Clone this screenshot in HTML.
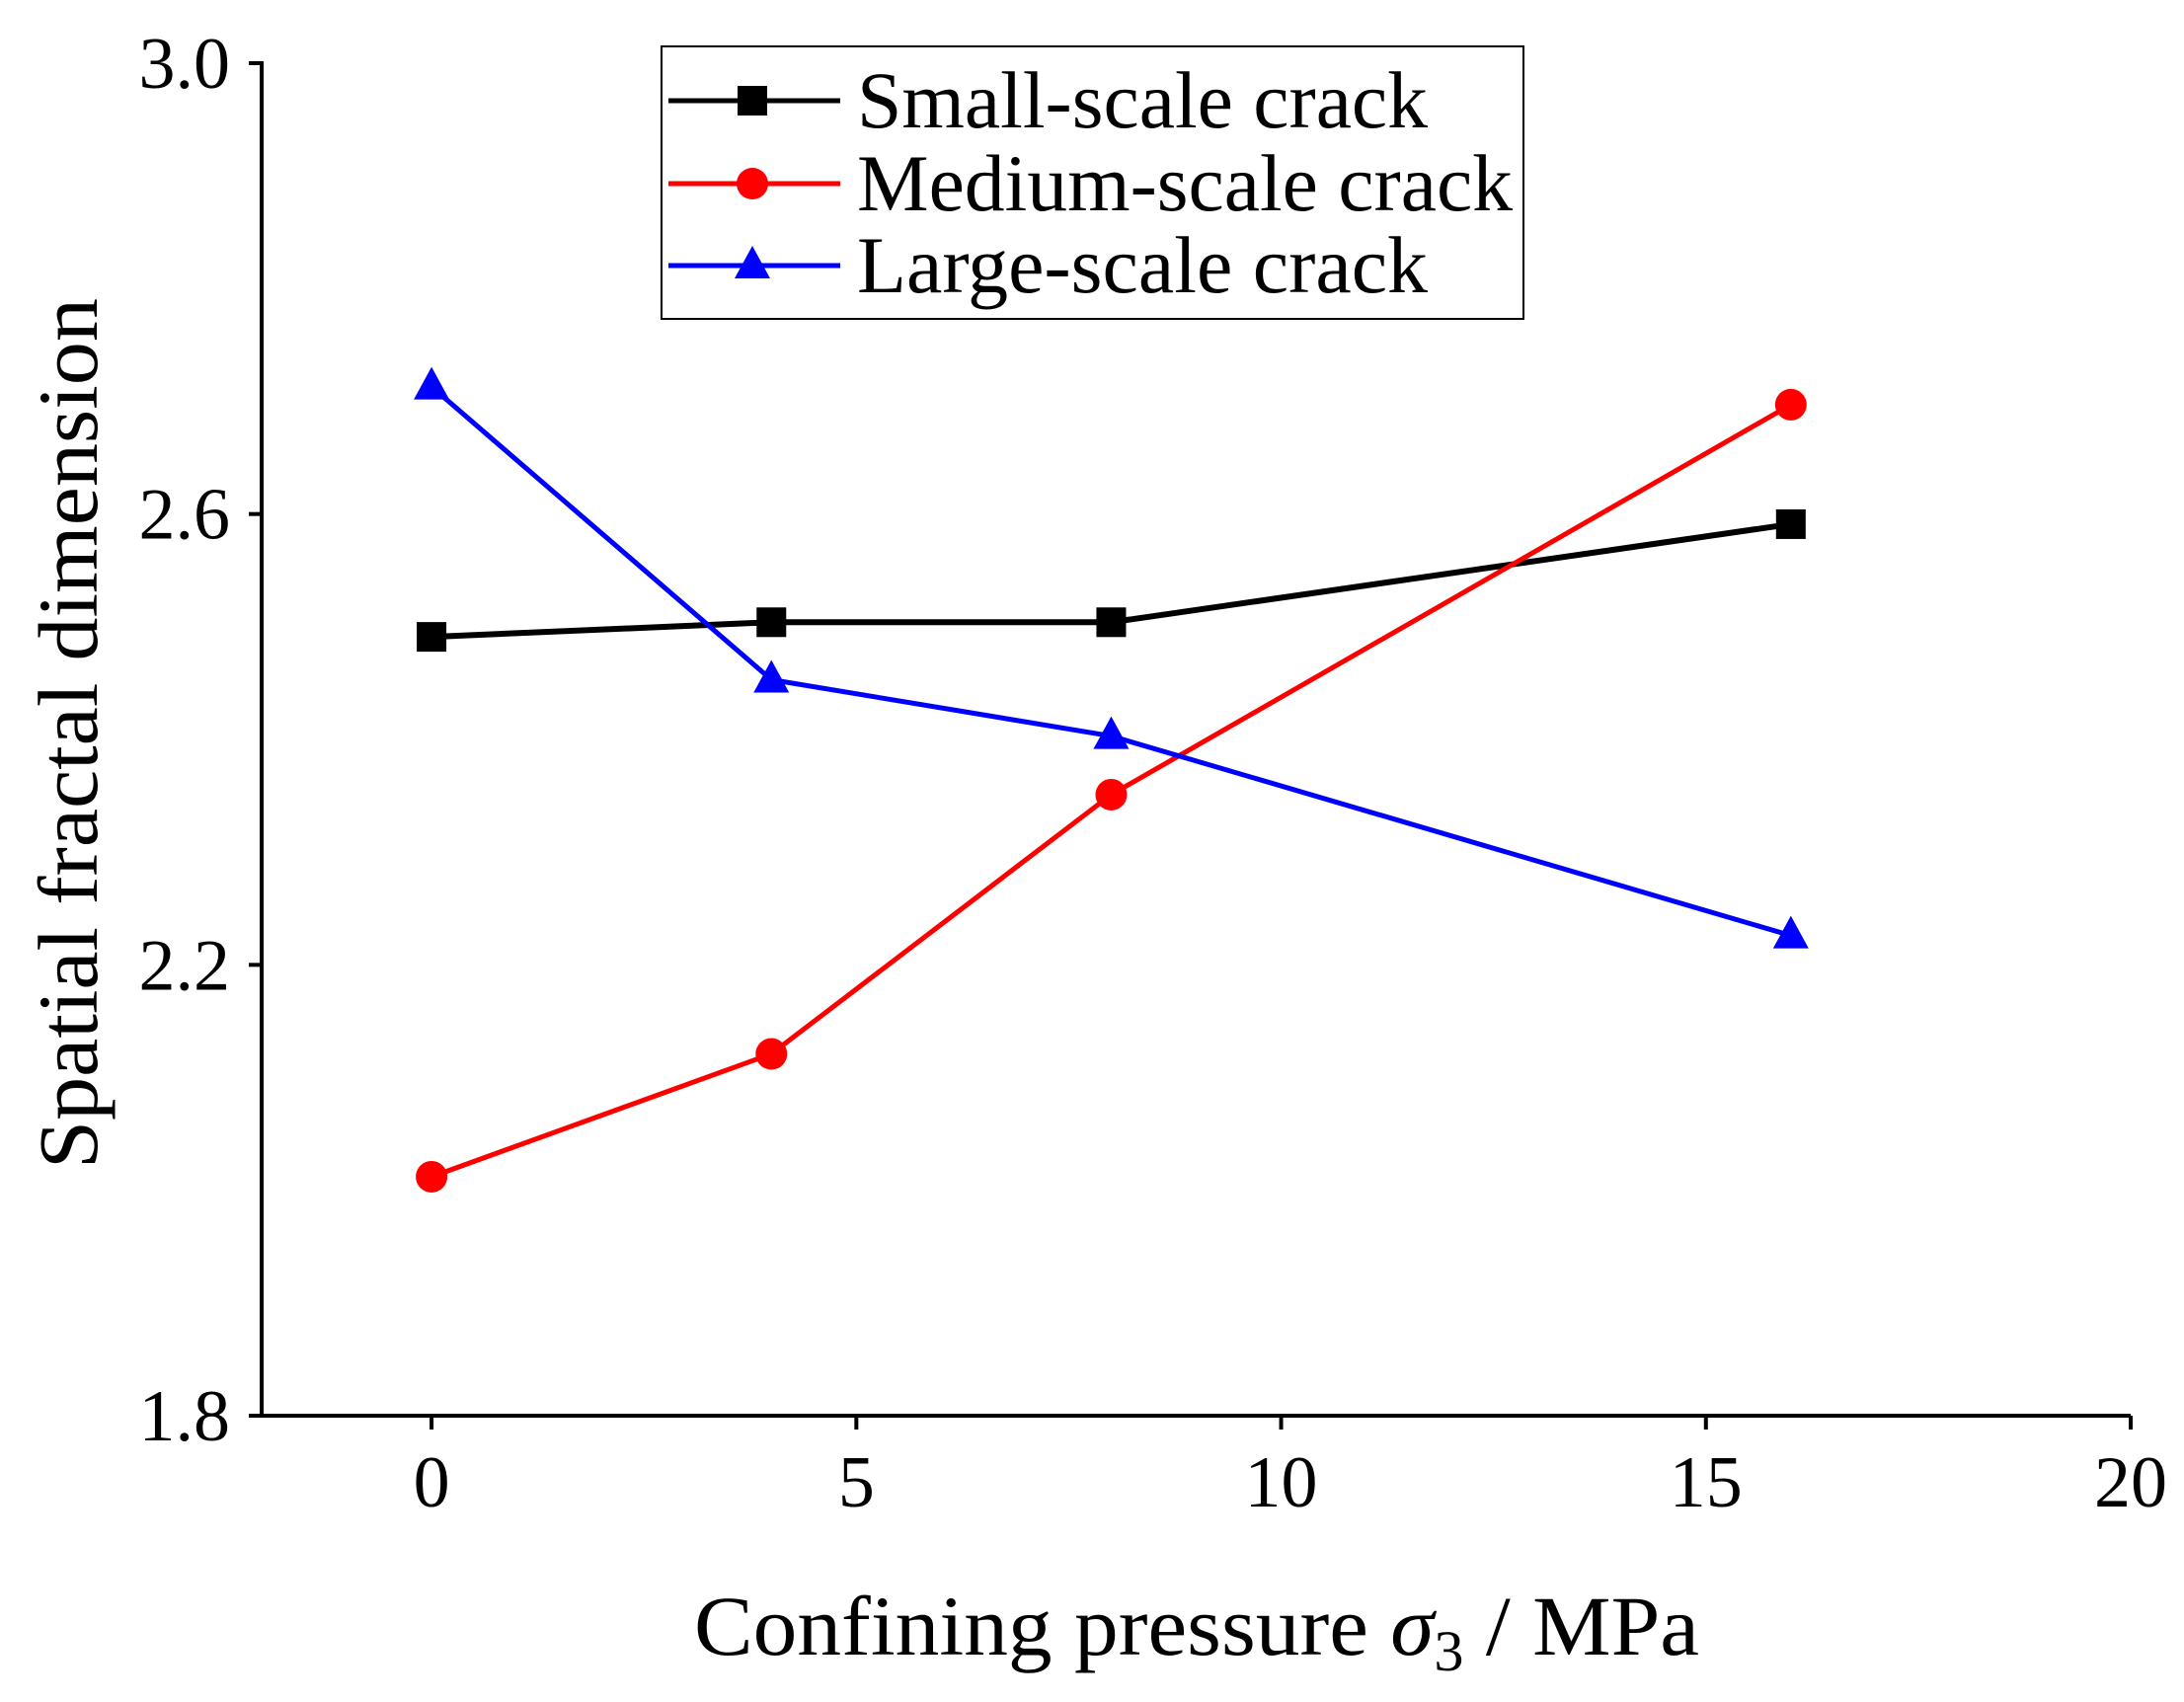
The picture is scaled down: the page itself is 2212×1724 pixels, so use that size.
<!DOCTYPE html>
<html><head><meta charset="utf-8"><style>body{margin:0;background:#fff}svg{display:block}</style></head>
<body>
<svg id="chart" width="2212" height="1724" xmlns="http://www.w3.org/2000/svg" font-family="'Liberation Serif', serif"></svg>
<script>
const xValues=[0,4,8,16];
const smallScale=[2.491,2.504,2.504,2.591];
const mediumScale=[2.012,2.121,2.351,2.697];
const largeScale=[2.713,2.453,2.403,2.226];
const xTicks=[0,5,10,15,20];
const yTicks=[1.8,2.2,2.6,3.0];
const yTickLabels=["1.8","2.2","2.6","3.0"];
const seriesNames=["Small-scale crack","Medium-scale crack","Large-scale crack"];

const L=265,R=2158,T=64,B=1434,XMIN=-2,XMAX=20,YMIN=1.8,YMAX=3.0;
const sx=v=>L+(v-XMIN)/(XMAX-XMIN)*(R-L);
const sy=v=>B-(v-YMIN)/(YMAX-YMIN)*(B-T);
const svg=document.getElementById('chart');
const NS='http://www.w3.org/2000/svg';
function mk(tag,attrs,parent){const e=document.createElementNS(NS,tag);for(const k in attrs)e.setAttribute(k,attrs[k]);(parent||svg).appendChild(e);return e;}

let e;
e=mk('line',{x1:L,y1:T-2,x2:L,y2:B+2,stroke:'#000','stroke-width':4});


e=mk('line',{x1:L-2,y1:B,x2:R,y2:B,stroke:'#000','stroke-width':4});



yTicks.forEach((v,i)=>{
  const t=mk('line',{x1:L-13,y1:sy(v),x2:L,y2:sy(v),stroke:'#000','stroke-width':4});
  
  
  const lb=mk('text',{x:233,y:sy(v)+25,'font-size':74,'text-anchor':'end'});
  lb.textContent=yTickLabels[i];
  
  
});
xTicks.forEach(v=>{
  const t=mk('line',{x1:sx(v),y1:B,x2:sx(v),y2:B+14,stroke:'#000','stroke-width':4});
  
  
  const lb=mk('text',{x:sx(v),y:1526,'font-size':74,'text-anchor':'middle'});
  lb.textContent=String(v);
  
  
});

e=mk('text',{x:0,y:0,'font-size':86,'text-anchor':'middle',transform:'translate(98,743) rotate(-90)',textLength:882,lengthAdjust:'spacingAndGlyphs'});
e.textContent='Spatial fractal dimension';



e=mk('text',{x:703,y:1676,'font-size':86,textLength:1018,lengthAdjust:'spacingAndGlyphs'});
e.innerHTML='Confining pressure <tspan font-style="italic">σ</tspan><tspan font-size="58" dy="16">3</tspan><tspan dy="-16"> / MPa</tspan>';



const colors=['#000','#f00','#00f'];
const shapes=['square','circle','triangle'];
function marker(shape,x,y,c,g){
  let m;
  if(shape==='square')m=mk('rect',{x:x-15,y:y-15,width:30,height:30,fill:c},g);
  else if(shape==='circle')m=mk('circle',{cx:x,cy:y,r:16,fill:c},g);
  else m=mk('polygon',{points:`${x},${y-20} ${x+18},${y+13} ${x-18},${y+13}`,fill:c},g);
  return m;
}
[smallScale,mediumScale,largeScale].forEach((data,si)=>{
  const g=mk('g',{});
  
  
  const pts=data.map((v,i)=>sx(xValues[i])+','+sy(v)).join(' ');
  const pl=mk('polyline',{points:pts,fill:'none',stroke:colors[si],'stroke-width':si===0?6:5},g);
  
  
  data.forEach((v,i)=>{
    const m=marker(shapes[si],sx(xValues[i]),sy(v),colors[si],g);
    
    
  });
});

const lg=mk('g',{});


e=mk('rect',{x:670,y:47,width:873,height:276,fill:'#fff',stroke:'#000','stroke-width':2},lg);


const ly=[102,186,269];
const lw=[578,664,578];
seriesNames.forEach((n,i)=>{
  const eg=mk('g',{},lg);
  
  
  mk('line',{x1:677,y1:ly[i],x2:851,y2:ly[i],stroke:colors[i],'stroke-width':5},eg);
  marker(shapes[i],762,ly[i],colors[i],eg);
  const t=mk('text',{x:868,y:ly[i]+27,'font-size':82,textLength:lw[i],lengthAdjust:'spacingAndGlyphs'},eg);
  t.textContent=n;
});
</script>
</body></html>
